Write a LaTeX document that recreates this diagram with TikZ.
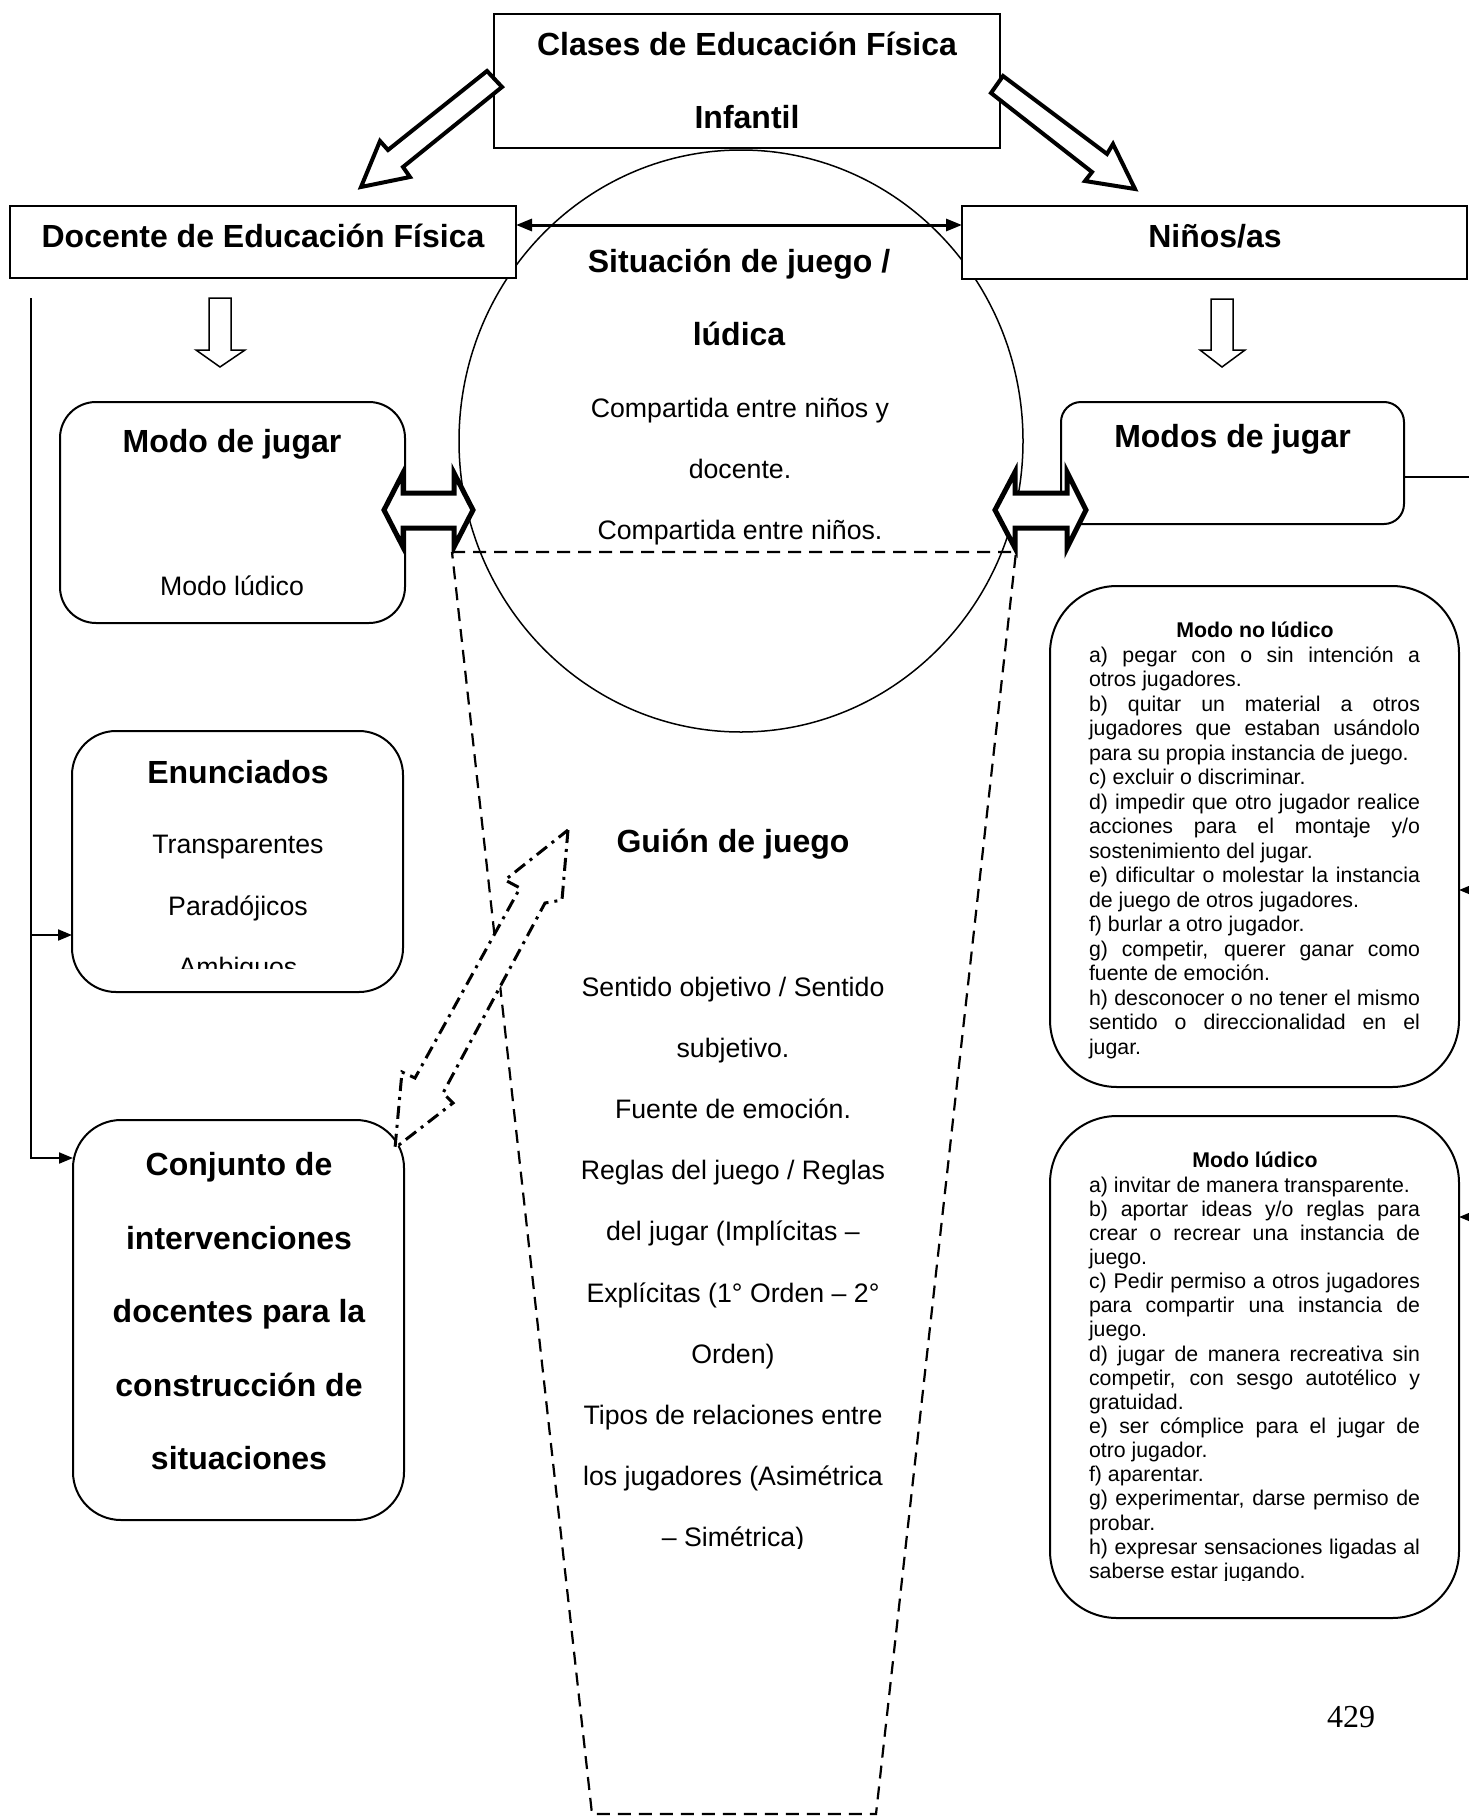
\documentclass[tikz,border=0pt]{standalone}
\usepackage{fontspec}
\setmainfont{Liberation Sans}
\newfontfamily\serifnum{Liberation Serif}
\usetikzlibrary{arrows.meta,shapes.geometric}
\newcommand\fHead{\fontsize{32}{38}\selectfont\bfseries}
\newcommand\fMid{\fontsize{26.7}{32}\selectfont}
\newcommand\fSmall{\fontsize{21.3}{24.5}\selectfont}
\newcommand\fSmallB{\fontsize{21.3}{24.5}\selectfont\bfseries}
\newcommand\lnJ[1]{\makebox[331pt][s]{#1}}
\newcommand\lnL[1]{\makebox[331pt][l]{#1}}
\begin{document}
\begin{tikzpicture}[x=1pt,y=-1pt,
  box/.style={draw, line width=2pt, inner sep=0pt, outer sep=0pt, fill=white},
  lbl/.style={anchor=base, inner sep=0pt, outer sep=0pt},
  lblw/.style={anchor=base west, inner sep=0pt, outer sep=0pt},
  arr/.style={line width=2pt, -{Triangle[length=14pt,width=11pt]}},
  blk/.style={draw, line width=4pt, fill=white, line join=miter, miter limit=10},
  hol/.style={draw, line width=1.5pt, fill=white},
  dbl/.style={draw, line width=5pt, fill=white, line join=miter, miter limit=10},
  dd/.style={draw, line width=3pt, fill=white, dash pattern=on 13pt off 6pt on 3pt off 6pt},
  dsh/.style={draw, line width=2.2pt, dash pattern=on 13pt off 8pt}]
\useasboundingbox[fill=white] (0,0) rectangle (1469,1817);

% central circle and dashed trapezoid
\node[draw, ellipse, line width=1.5pt, inner sep=0pt, minimum width=564pt, minimum height=582pt] (sit) at (741,441) {};
\draw[dsh] (452,552) -- (1016,552) -- (876,1814) -- (592,1814) -- cycle;

% boxes
\node[box, minimum width=506pt, minimum height=134pt] (top) at (747,81) {};
\node[box, minimum width=506pt, minimum height=72pt] (doc) at (263,242) {};
\node[box, minimum width=505pt, minimum height=73pt] (nin) at (1214.5,242.5) {};
\node[box, rounded corners=36pt, minimum width=345pt, minimum height=221pt] (mdj) at (232.5,512.5) {};
\node[box, rounded corners=44pt, minimum width=331pt, minimum height=261pt] (enun) at (237.5,861.5) {};
\node[box, rounded corners=48pt, minimum width=331pt, minimum height=400pt] (conj) at (238.5,1320) {};
\node[box, rounded corners=20pt, minimum width=343pt, minimum height=122pt] (mdsj) at (1232.5,463) {};
\node[box, rounded corners=67pt, minimum width=409pt, minimum height=501pt] (nolud) at (1254.5,836.5) {};
\node[box, rounded corners=67pt, minimum width=409pt, minimum height=502pt] (lud) at (1254.5,1367) {};

% connectors
\draw[line width=3pt, {Triangle[length=16pt,width=12pt]}-{Triangle[length=16pt,width=12pt]}] (doc.east |- 0,225) -- (nin.west |- 0,225);
\coordinate (vl) at (31,298);
\draw[arr] (vl) |- (conj.west |- 0,1158);
\draw[arr] (vl |- 0,935) -- (enun.west |- 0,935);
\coordinate (vr) at (1475,477);
\draw[line width=1.5pt] (mdsj.east |- vr) -- (vr) -- (1475,1217);
\draw[arr] (1475,890) -- (nolud.east |- 0,890);
\draw[arr] (1475,1217) -- (lud.east |- 0,1217);

% big diagonal arrows
\draw[blk] (487,71) -- (502,87) -- (403,167) -- (410,177) -- (361,187) -- (380,141) -- (388,150) -- cycle;
\draw[blk] (1003,76) -- (991,93) -- (1092,172) -- (1085,181) -- (1135,189) -- (1113,144) -- (1107,154) -- cycle;
% hollow down arrows
\draw[hol] (209,298) -- (231,298) -- (231,350) -- (245,350) -- (220,367) -- (196,350) -- (209,350) -- cycle;
\draw[hol] (1211,299) -- (1233,299) -- (1233,350) -- (1245,350) -- (1222,367) -- (1200,350) -- (1211,350) -- cycle;
% double block arrows
\draw[dbl] (384,510) -- (403,473) -- (403,493) -- (454,493) -- (454,473) -- (473,510) -- (454,547) -- (454,528) -- (403,528) -- (403,547) -- cycle;
\draw[dbl] (995,510) -- (1015,472) -- (1015,493) -- (1067,493) -- (1067,472) -- (1086,510) -- (1067,548) -- (1067,528) -- (1015,528) -- (1015,548) -- cycle;
% dash-dotted double arrow
\draw[dd] (568,830) -- (562,900) -- (545,903) -- (443,1093) -- (453,1103) -- (395,1148) -- (402,1072) -- (415,1078) -- (520,888) -- (505,880) -- cycle;

% texts
\node[lbl] (t1) at (747,55.5) {\fHead Clases de Educación Física};
\node[lbl] (t2) at (747,128.5) {\fHead Infantil};
\node[lbl] (tdoc) at (263,247.5) {\fHead Docente de Educación Física};
\node[lbl] (tnin) at (1215,247.5) {\fHead Niños/as};
\node[lbl] (ts1) at (739,272) {\fHead Situación de juego /};
\node[lbl] (ts2) at (739,345) {\fHead lúdica};
\node[lbl] (ts3) at (740,417) {\fMid Compartida entre niños y};
\node[lbl] (ts4) at (740,478) {\fMid docente.};
\node[lbl] (ts5) at (740,539) {\fMid Compartida entre niños.};
\node[lbl] (tmdj1) at (232,452) {\fHead Modo de jugar};
\node[lbl] (tmdj2) at (232,595) {\fMid Modo lúdico};
\node[lbl] (tmdsj) at (1232.5,447) {\fHead Modos de jugar};
\node[lbl] (ten1) at (238,783) {\fHead Enunciados};
\node[lbl] (ten2) at (238,853) {\fMid Transparentes};
\node[lbl] (ten3) at (238,915) {\fMid Paradójicos};
\begin{scope}
\clip (0,0) rectangle (1469,968);
\node[lbl] (ten4) at (238,976) {\fMid Ambiguos};
\end{scope}
\foreach \t [count=\i from 0] in {Conjunto de, intervenciones, docentes para la, construcción de, situaciones}
  \node[lbl] (tc\i) at (239,{1175.5+73.6*\i}) {\fHead \t};
\node[lbl] (tg) at (733,852.5) {\fHead Guión de juego};
\begin{scope}
\clip (0,0) rectangle (1469,1548);
\foreach \t [count=\i from 0] in {Sentido objetivo / Sentido, subjetivo., Fuente de emoción., Reglas del juego / Reglas, del jugar (Implícitas –, Explícitas (1° Orden – 2°, Orden), Tipos de relaciones entre, los jugadores (Asimétrica, – Simétrica)}
  \node[lbl] (tg\i) at (733,{996+61.2*\i}) {\fMid \t};
\end{scope}

\node[lbl] (tnl) at (1255,637) {\fSmallB Modo no lúdico};
\foreach \t [count=\i from 0] in {
  {\lnJ{a) pegar con o sin intención a}},
  {\lnL{otros jugadores.}},
  {\lnJ{b) quitar un material a otros}},
  {\lnJ{jugadores que estaban usándolo}},
  {\lnL{para su propia instancia de juego.}},
  {\lnL{c) excluir o discriminar.}},
  {\lnJ{d) impedir que otro jugador realice}},
  {\lnJ{acciones para el montaje y/o}},
  {\lnL{sostenimiento del jugar.}},
  {\lnJ{e) dificultar o molestar la instancia}},
  {\lnL{de juego de otros jugadores.}},
  {\lnL{f) burlar a otro jugador.}},
  {\lnJ{g) competir, querer ganar como}},
  {\lnL{fuente de emoción.}},
  {\lnJ{h) desconocer o no tener el mismo}},
  {\lnJ{sentido o direccionalidad en el}},
  {\lnL{jugar.}}}
  \node[lblw] (nl\i) at (1089,{662+24.5*\i}) {\fSmall\t};

\node[lbl] (tl) at (1255,1167) {\fSmallB Modo lúdico};
\begin{scope}
\clip (0,0) rectangle (1469,1580);
\foreach \t [count=\i from 0] in {
  {\lnL{a) invitar de manera transparente.}},
  {\lnJ{b) aportar ideas y/o reglas para}},
  {\lnJ{crear o recrear una instancia de}},
  {\lnL{juego.}},
  {\lnJ{c) Pedir permiso a otros jugadores}},
  {\lnJ{para compartir una instancia de}},
  {\lnL{juego.}},
  {\lnJ{d) jugar de manera recreativa sin}},
  {\lnJ{competir, con sesgo autotélico y}},
  {\lnL{gratuidad.}},
  {\lnJ{e) ser cómplice para el jugar de}},
  {\lnL{otro jugador.}},
  {\lnL{f) aparentar.}},
  {\lnJ{g) experimentar, darse permiso de}},
  {\lnL{probar.}},
  {\lnJ{h) expresar sensaciones ligadas al}},
  {\lnL{saberse estar jugando.}}}
  \node[lblw] (ll\i) at (1089,{1192+24.15*\i}) {\fSmall\t};
\end{scope}

\node[lbl] (pg) at (1351,1727) {\serifnum\fontsize{32}{38}\selectfont 429};
\end{tikzpicture}
\end{document}
